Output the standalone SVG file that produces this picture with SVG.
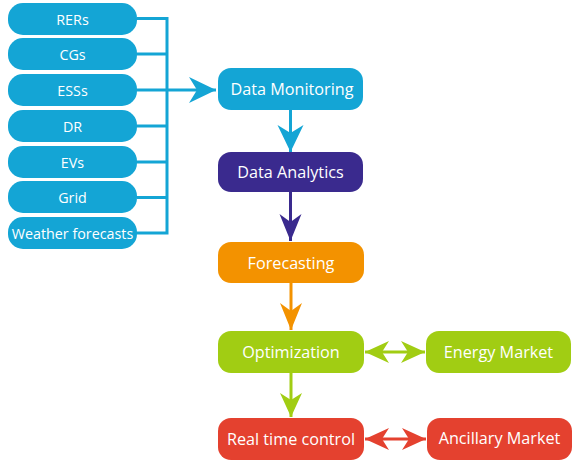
<svg xmlns="http://www.w3.org/2000/svg" width="577" height="466" viewBox="0 0 577 466">
<style>
text{font-family:"Open Sans","Noto Sans","Liberation Sans",sans-serif;fill:#fff;text-anchor:middle;dominant-baseline:central}
.src{font-size:14.3px}
.main{font-size:16.2px}
.cy{fill:#14A5D5}
.pu{fill:#3A2A8E}
.or{fill:#F39200}
.gr{fill:#A1CD13}
.rd{fill:#E4412F}
.l{fill:none;stroke-width:3}
</style>
<defs>
<marker id="aC" markerUnits="userSpaceOnUse" markerWidth="30" markerHeight="30" viewBox="-28 -14 30 28" refX="0" refY="0" orient="auto"><path d="M0,0 L-27,-13 L-19,0 L-27,13 Z" fill="#14A5D5"/></marker>
<marker id="aP" markerUnits="userSpaceOnUse" markerWidth="30" markerHeight="30" viewBox="-28 -14 30 28" refX="0" refY="0" orient="auto"><path d="M0,0 L-27,-11 L-19,0 L-27,11 Z" fill="#3A2A8E"/></marker>
<marker id="aO" markerUnits="userSpaceOnUse" markerWidth="30" markerHeight="30" viewBox="-28 -14 30 28" refX="0" refY="0" orient="auto"><path d="M0,0 L-27,-11 L-19,0 L-27,11 Z" fill="#F39200"/></marker>
<marker id="aG" markerUnits="userSpaceOnUse" markerWidth="30" markerHeight="30" viewBox="-28 -14 30 28" refX="0" refY="0" orient="auto-start-reverse"><path d="M0,0 L-24,-11 L-17,0 L-24,11 Z" fill="#A1CD13"/></marker>
<marker id="aR" markerUnits="userSpaceOnUse" markerWidth="30" markerHeight="30" viewBox="-28 -14 30 28" refX="0" refY="0" orient="auto-start-reverse"><path d="M0,0 L-24,-11 L-17,0 L-24,11 Z" fill="#E4412F"/></marker>
</defs>
<g id="connectors">
<path class="l" stroke="#14A5D5" d="M137,18.5H167M137,54H167M137,126H167M137,162H167M137,197.5H167M137,233H167M167,17V234.5"/>
<path class="l" stroke="#14A5D5" d="M137,90H216" marker-end="url(#aC)"/>
<path class="l" stroke="#14A5D5" d="M290.5,110V152" marker-end="url(#aC)"/>
<path class="l" stroke="#3A2A8E" d="M290.5,192V241" marker-end="url(#aP)"/>
<path class="l" stroke="#F39200" d="M291,283V330" marker-end="url(#aO)"/>
<path class="l" stroke="#A1CD13" d="M291,373V417" marker-end="url(#aG)"/>
<path class="l" stroke="#A1CD13" d="M365,352H425" marker-start="url(#aG)" marker-end="url(#aG)"/>
<path class="l" stroke="#E4412F" d="M365,439H426" marker-start="url(#aR)" marker-end="url(#aR)"/>
</g>
<g id="RERs"><rect class="cy" x="8" y="3" width="129" height="32" rx="15"/><text class="src" x="72.5" y="19">RERs</text></g>
<g id="CGs"><rect class="cy" x="8" y="38" width="129" height="32" rx="15"/><text class="src" x="72.5" y="54">CGs</text></g>
<g id="ESSs"><rect class="cy" x="8" y="74" width="129" height="32" rx="15"/><text class="src" x="72.5" y="90">ESSs</text></g>
<g id="DR"><rect class="cy" x="8" y="110" width="129" height="32" rx="15"/><text class="src" x="72.5" y="126">DR</text></g>
<g id="EVs"><rect class="cy" x="8" y="146" width="129" height="32" rx="15"/><text class="src" x="72.5" y="162">EVs</text></g>
<g id="Grid"><rect class="cy" x="8" y="181" width="129" height="32" rx="15"/><text class="src" x="72.5" y="197">Grid</text></g>
<g id="Weather"><rect class="cy" x="8" y="217" width="129" height="32" rx="15"/><text class="src" x="72.5" y="233">Weather forecasts</text></g>
<g id="DataMonitoring"><rect class="cy" x="218" y="68" width="145" height="42" rx="13"/><text class="main" x="292" y="89">Data Monitoring</text></g>
<g id="DataAnalytics"><rect class="pu" x="218" y="152" width="145" height="40" rx="13"/><text class="main" x="290.5" y="172">Data Analytics</text></g>
<g id="Forecasting"><rect class="or" x="218" y="242" width="146" height="41" rx="13"/><text class="main" x="291" y="262.5">Forecasting</text></g>
<g id="Optimization"><rect class="gr" x="218" y="331" width="146" height="42" rx="13"/><text class="main" x="291" y="352">Optimization</text></g>
<g id="EnergyMarket"><rect class="gr" x="426" y="331" width="145" height="42" rx="13"/><text class="main" x="498.5" y="352">Energy Market</text></g>
<g id="RealTimeControl"><rect class="rd" x="218" y="418" width="146" height="42" rx="13"/><text class="main" x="291" y="439">Real time control</text></g>
<g id="AncillaryMarket"><rect class="rd" x="427" y="418" width="145" height="42" rx="13"/><text class="main" x="499.5" y="438">Ancillary Market</text></g>
</svg>
